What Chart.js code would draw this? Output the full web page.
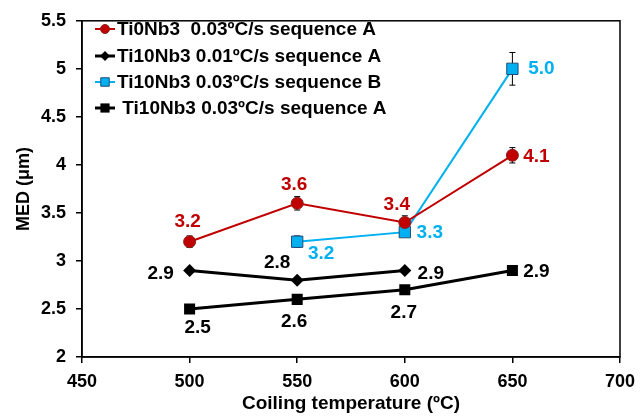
<!DOCTYPE html>
<html>
<head>
<meta charset="utf-8">
<script src="https://cdn.jsdelivr.net/npm/chart.js@4"></script>
<style>
  html, body { margin: 0; padding: 0; background: #fff; }
  #wrap { width: 644px; height: 417px; }
</style>
</head>
<body>
<div id="wrap"><canvas id="chart" width="644" height="417"></canvas></div>
<script>
// temperaturas de bobinado (ºC)
const temps = [500, 550, 600, 650];

// MED (µm) por serie, null = sin dato
const ti0Nb3_003_A = [3.2, 3.6, 3.4, 4.1];
const ti0Nb3_003_A_err = [0.06, 0.07, 0.07, 0.08];
const ti10Nb3_001_A = [2.9, 2.8, 2.9, null];
const ti10Nb3_003_B = [null, 3.2, 3.3, 5.0];
const ti10Nb3_003_B_err = [null, 0.06, 0, 0.17];
const ti10Nb3_003_A = [2.5, 2.6, 2.7, 2.9];

const seriesNames = [
  'Ti0Nb3  0.03ºC/s sequence A',
  'Ti10Nb3 0.01ºC/s sequence A',
  'Ti10Nb3 0.03ºC/s sequence B',
  ' Ti10Nb3 0.03ºC/s sequence A'
];

const xTicks = [450, 500, 550, 600, 650, 700];
const yTicks = [2, 2.5, 3, 3.5, 4, 4.5, 5, 5.5];

const FONT = 'Liberation Sans, Arial, sans-serif';
const RED = '#c00000';
const BLUE = '#00b0f0';

function puntos(vals, errs) {
  const out = [];
  temps.forEach((t, i) => {
    if (vals[i] !== null) out.push({ x: t, y: vals[i], err: errs ? (errs[i] || 0) : 0 });
  });
  return out;
}

// desplazamientos de las etiquetas de cada punto (px)
const labelOffsets = [
  [[-2, -20], [-3, -19], [-8, -18], [24, 1]],
  [[-29, 3], [-20, -17], [26, 3]],
  [[24, 12], [25, 1], [29, 0]],
  [[8, 19], [-3, 22], [-1, 23], [24, 1]]
];

const datasets = [
  {
    label: seriesNames[0], data: puntos(ti0Nb3_003_A, ti0Nb3_003_A_err),
    borderColor: RED, backgroundColor: RED, borderWidth: 2,
    pointStyle: 'circle', pointRadius: 6, pointBorderColor: '#8b2020', pointBorderWidth: 1,
    legendRadius: 4.5, labelColor: RED
  },
  {
    label: seriesNames[1], data: puntos(ti10Nb3_001_A),
    borderColor: '#000', backgroundColor: '#000', borderWidth: 3,
    pointStyle: 'rectRot', pointRadius: 6.5, pointBorderWidth: 0,
    legendRadius: 5, labelColor: '#000'
  },
  {
    label: seriesNames[2], data: puntos(ti10Nb3_003_B, ti10Nb3_003_B_err),
    borderColor: BLUE, backgroundColor: BLUE, borderWidth: 2,
    pointStyle: 'rect', pointRadius: 8, pointBorderColor: '#1f4e79', pointBorderWidth: 1,
    legendRadius: 6, labelColor: BLUE
  },
  {
    label: seriesNames[3], data: puntos(ti10Nb3_003_A),
    borderColor: '#000', backgroundColor: '#000', borderWidth: 3,
    pointStyle: 'rect', pointRadius: 7.8, pointBorderWidth: 0,
    legendRadius: 6.5, labelColor: '#000'
  }
];

// barras de error + marco + etiquetas + leyenda
const extras = {
  id: 'extras',
  beforeDatasetsDraw(chart) {
    const ctx = chart.ctx;
    const xs = chart.scales.x, ys = chart.scales.y;
    ctx.save();
    ctx.strokeStyle = '#000';
    ctx.lineWidth = 1;
    chart.data.datasets.forEach(ds => {
      ds.data.forEach(p => {
        if (!p.err) return;
        const x = xs.getPixelForValue(p.x);
        const y1 = ys.getPixelForValue(p.y + p.err);
        const y2 = ys.getPixelForValue(p.y - p.err);
        ctx.beginPath();
        ctx.moveTo(x, y1); ctx.lineTo(x, y2);
        ctx.moveTo(x - 3, y1); ctx.lineTo(x + 3, y1);
        ctx.moveTo(x - 3, y2); ctx.lineTo(x + 3, y2);
        ctx.stroke();
      });
    });
    ctx.restore();
  },
  afterDatasetsDraw(chart) {
    const ctx = chart.ctx;
    const a = chart.chartArea;
    ctx.save();
    ctx.strokeStyle = '#000';
    ctx.lineWidth = 1.5;
    ctx.strokeRect(a.left, a.top, a.right - a.left, a.bottom - a.top);

    // etiquetas de datos
    ctx.font = 'bold 19px ' + FONT;
    ctx.textAlign = 'center';
    ctx.textBaseline = 'middle';
    chart.data.datasets.forEach((ds, di) => {
      const meta = chart.getDatasetMeta(di);
      ctx.fillStyle = ds.labelColor;
      meta.data.forEach((el, i) => {
        const off = labelOffsets[di][i];
        ctx.fillText(ds.data[i].y.toFixed(1), el.x + off[0], el.y + off[1]);
      });
    });

    // leyenda dentro del área
    const rows = [29, 56, 82, 108];
    ctx.textAlign = 'left';
    chart.data.datasets.forEach((ds, di) => {
      const y = rows[di];
      ctx.strokeStyle = ds.borderColor;
      ctx.lineWidth = ds.borderWidth;
      ctx.beginPath();
      ctx.moveTo(95, y); ctx.lineTo(115, y);
      ctx.stroke();
      ctx.fillStyle = ds.backgroundColor;
      ctx.strokeStyle = ds.pointBorderColor || ds.backgroundColor;
      ctx.lineWidth = ds.pointBorderWidth || 0.01;
      Chart.helpers.drawPoint(ctx, {
        pointStyle: ds.pointStyle, radius: ds.legendRadius, rotation: 0, borderWidth: ds.pointBorderWidth
      }, 105, y);
      ctx.fillStyle = '#000';
      ctx.fillText(ds.label, 117, y + 1);
    });
    ctx.restore();
  }
};

new Chart(document.getElementById('chart'), {
  type: 'line',
  data: { datasets },
  options: {
    responsive: false,
    animation: false,
    layout: { padding: { top: 15, right: 24, left: 13, bottom: 0 } },
    plugins: { legend: { display: false }, tooltip: { enabled: false } },
    scales: {
      x: {
        type: 'linear', min: 450, max: 700,
        afterBuildTicks: s => { s.ticks = xTicks.map(v => ({ value: v })); },
        afterFit: s => { s.height = 60; },
        grid: { drawOnChartArea: false, tickLength: 6, color: '#000', lineWidth: 1.5 },
        border: { color: '#000', width: 1.5 },
        ticks: { color: '#000', font: { family: FONT, size: 18, weight: 'bold' }, padding: 8, maxRotation: 0 },
        title: {
          display: true, text: 'Coiling temperature (ºC)', color: '#000',
          font: { family: FONT, size: 19, weight: 'bold' }, padding: { top: 0, bottom: 2 }
        }
      },
      y: {
        type: 'linear', min: 2, max: 5.5,
        afterBuildTicks: s => { s.ticks = yTicks.map(v => ({ value: v })); },
        afterFit: s => { s.width = 69; },
        grid: { drawOnChartArea: false, tickLength: 6, color: '#000', lineWidth: 1.5 },
        border: { color: '#000', width: 1.5 },
        ticks: {
          color: '#000', font: { family: FONT, size: 18, weight: 'bold' }, padding: 10,
          callback: v => String(v)
        },
        title: {
          display: true, text: 'MED (μm)', color: '#000',
          font: { family: FONT, size: 18, weight: 'bold' }, padding: { top: 0, bottom: 6 }
        }
      }
    }
  },
  plugins: [extras]
});
</script>
</body>
</html>
